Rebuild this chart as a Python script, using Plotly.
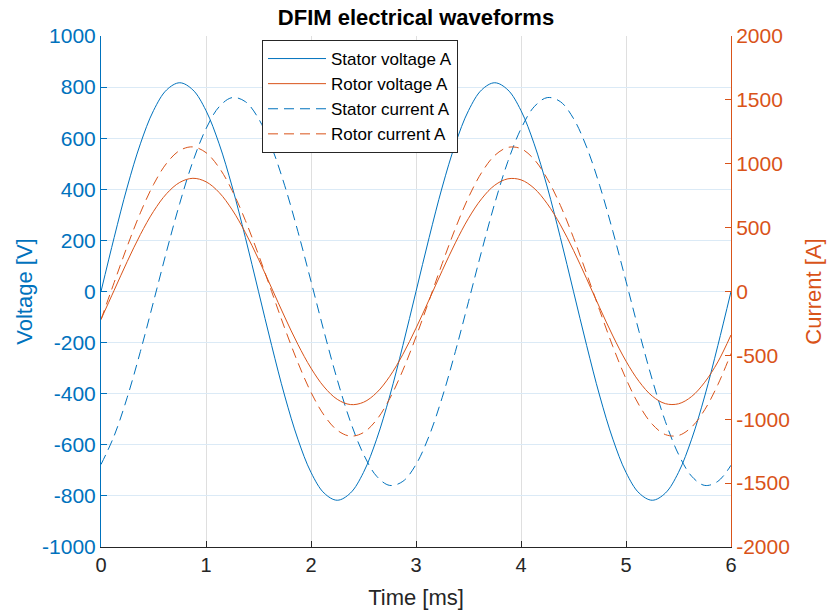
import plotly.graph_objects as go

# time samples [ms]
time_ms = [round(0.125 * k, 3) for k in range(49)]

# Stator voltage A [V] (left axis)
stator_voltage = [0, 211, 409, 578, 708, 789, 817, 789, 708, 578, 409, 211,
                  0, -211, -409, -578, -708, -789, -817, -789, -708, -578, -409, -211,
                  0, 211, 409, 578, 708, 789, 817, 789, 708, 578, 409, 211,
                  0, -211, -409, -578, -708, -789, -817, -789, -708, -578, -409, -211, 0]

# Stator current A (left axis scale)
stator_current = [-677, -565, -414, -235, -40, 158, 345, 509, 637, 723, 759, 743,
                  677, 565, 414, 235, 40, -158, -345, -509, -637, -723, -759, -743,
                  -677, -565, -414, -235, -40, 158, 345, 509, 637, 723, 759, 743,
                  677, 565, 414, 235, 40, -158, -345, -509, -637, -723, -759, -743, -680]

# Rotor voltage A (right axis scale)
rotor_voltage = [-218, 9, 235, 446, 627, 766, 854, 886, 859, 775, 639, 461,
                 253, 27, -200, -414, -600, -747, -844, -885, -867, -792, -664, -492,
                 -287, -64, 164, 381, 573, 726, 832, 882, 874, 808, 687, 522,
                 322, 100, -128, -348, -545, -705, -819, -878, -879, -822, -710, -551, -340]

# Rotor current A [A] (right axis)
rotor_current = [-220, 70, 354, 616, 837, 1004, 1104, 1132, 1087, 969, 789, 556,
                 288, 0, -288, -556, -789, -969, -1086, -1132, -1104, -1004, -838, -616,
                 -355, -70, 220, 494, 737, 931, 1065, 1128, 1118, 1034, 883, 674,
                 421, 140, -150, -431, -683, -890, -1039, -1120, -1127, -1061, -925, -729, -485]

x_ticks = [0, 1, 2, 3, 4, 5, 6]
x_tick_labels = ["0", "1", "2", "3", "4", "5", "6"]
left_ticks = [-1000, -800, -600, -400, -200, 0, 200, 400, 600, 800, 1000]
left_tick_labels = ["-1000", "-800", "-600", "-400", "-200", "0", "200", "400", "600", "800", "1000"]
right_ticks = [-2000, -1500, -1000, -500, 0, 500, 1000, 1500, 2000]
right_tick_labels = ["-2000", "-1500", "-1000", "-500", "0", "500", "1000", "1500", "2000"]

BLUE = "#0072BD"
ORANGE = "#D95319"
DARK = "#262626"
FONT = "Liberation Sans, Arial, sans-serif"

fig = go.Figure()
fig.add_trace(go.Scatter(x=time_ms, y=stator_voltage, name="Stator voltage A", mode="lines",
                         line=dict(color=BLUE, width=1, shape="spline"), yaxis="y"))
fig.add_trace(go.Scatter(x=time_ms, y=rotor_voltage, name="Rotor voltage A", mode="lines",
                         line=dict(color=ORANGE, width=1, shape="spline"), yaxis="y2"))
fig.add_trace(go.Scatter(x=time_ms, y=stator_current, name="Stator current A", mode="lines",
                         line=dict(color=BLUE, width=1, shape="spline", dash="10px,6px"), yaxis="y"))
fig.add_trace(go.Scatter(x=time_ms, y=rotor_current, name="Rotor current A", mode="lines",
                         line=dict(color=ORANGE, width=1, shape="spline", dash="10px,6px"), yaxis="y2"))

fig.update_layout(
    width=827, height=610,
    margin=dict(l=101, r=96, t=36, b=63, autoexpand=False),
    paper_bgcolor="white", plot_bgcolor="white",
    font=dict(family=FONT, size=20, color=DARK),
    title=dict(text="<b>DFIM electrical waveforms</b>", x=(101 + 731) / 2 / 827, xanchor="center",
               y=1 - 10 / 610, yanchor="top", font=dict(family=FONT, size=22, color="black")),
    showlegend=True,
    legend=dict(x=(262 - 101) / 630, y=(547 - 40) / 511, xanchor="left", yanchor="top",
                bgcolor="white", bordercolor=DARK, borderwidth=1, itemwidth=58,
                font=dict(family=FONT, size=17, color="black"), tracegroupgap=0),
    xaxis=dict(range=[0, 6], tickvals=x_ticks, ticktext=x_tick_labels, automargin=True,
               showline=True, linecolor=DARK, linewidth=1, mirror=False,
               ticks="inside", ticklen=6, tickcolor=DARK,
               showgrid=True, gridcolor="rgb(223,223,223)", gridwidth=1, zeroline=False,
               tickfont=dict(size=20, color=DARK),
               title=dict(text="Time [ms]", font=dict(size=22, color=DARK), standoff=14)),
    yaxis=dict(range=[-1000, 1000], tickvals=left_ticks, ticktext=left_tick_labels, automargin=True,
               showline=True, linecolor=BLUE, linewidth=1,
               ticks="inside", ticklen=6, tickcolor=BLUE,
               showgrid=True, gridcolor="rgb(219,234,246)", gridwidth=1, zeroline=False,
               tickfont=dict(size=21, color=BLUE),
               title=dict(text="Voltage [V]", font=dict(size=22, color=BLUE), standoff=3)),
    yaxis2=dict(range=[-2000, 2000], tickvals=right_ticks, ticktext=right_tick_labels, automargin=True,
                overlaying="y", side="right", anchor="x",
                showline=True, linecolor=ORANGE, linewidth=1,
                ticks="inside", ticklen=6, tickcolor=ORANGE,
                showgrid=False, zeroline=False,
                tickfont=dict(size=21, color=ORANGE),
                title=dict(text="Current [A]", font=dict(size=22, color=ORANGE), standoff=16)),
)

fig.write_html("out.html", config={"displayModeBar": False},
               post_script="document.body.style.margin='0';")
